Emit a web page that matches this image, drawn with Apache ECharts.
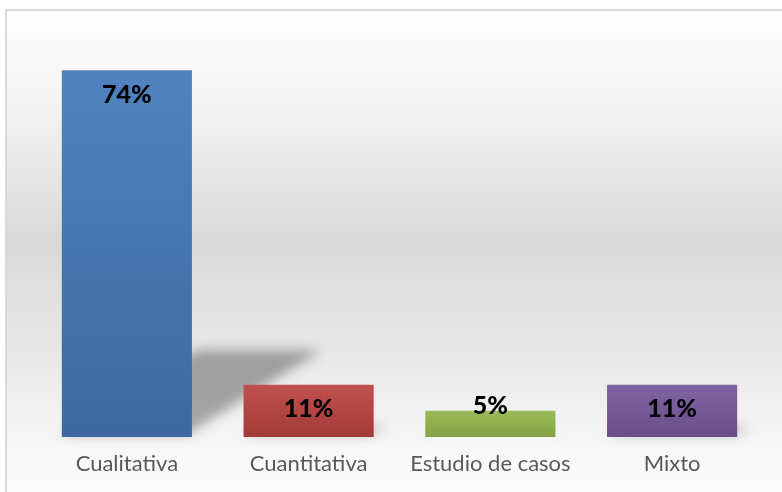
<!DOCTYPE html>
<html><head><meta charset="utf-8">
<script src="https://cdn.jsdelivr.net/npm/echarts@6/dist/echarts.min.js"></script>
<style>html,body{margin:0;padding:0;background:#fff}#c{width:782px;height:492px}</style>
</head><body><div id="c"></div>
<script>
const categories = ['Cualitativa', 'Cuantitativa', 'Estudio de casos', 'Mixto'];
const values = [73.7, 10.5, 5.3, 10.5];
const topColors = ['#5083bf', '#c0504d', '#9bbb59', '#8064a2'];
const bottomColors = ['#3c69a0', '#a23b38', '#84a244', '#694e8a'];

const chart = echarts.init(document.getElementById('c'), null, {renderer: 'canvas'});
const BAR_RATIO = 0.716;
const SHIFT = 1000;

chart.setOption({
  animation: false,
  backgroundColor: '#ffffff',
  graphic: [{
    type: 'rect', z: -10, silent: true,
    shape: {x: 6, y: 10, width: 800, height: 500},
    style: {
      fill: new echarts.graphic.LinearGradient(0, 0, 0, 1, [
        {offset: 0, color: '#ffffff'},
        {offset: 0.2, color: '#f3f3f3'},
        {offset: 0.46, color: '#d9d9d9'},
        {offset: 0.66, color: '#e6e6e6'},
        {offset: 0.86, color: '#f6f6f6'},
        {offset: 1, color: '#ffffff'}
      ]),
      stroke: '#d9d9d9', lineWidth: 2
    }
  }],
  grid: {left: 36, right: 19, top: 39, bottom: 55},
  xAxis: {
    type: 'category', data: categories,
    axisLine: {show: false}, axisTick: {show: false},
    axisLabel: {interval: 0, color: '#595959', fontFamily: 'Lato', fontSize: 22, margin: 16}
  },
  yAxis: {type: 'value', min: 0, max: 80, show: false, splitLine: {show: false}},
  series: [{
    type: 'custom', z: 1, silent: true, clip: false,
    data: values.map((v, i) => [i, v]),
    renderItem: function (params, api) {
      const top = api.coord([api.value(0), api.value(1)]);
      const base = api.coord([api.value(0), 0]);
      const band = api.size([1, 0])[0];
      const w = band * BAR_RATIO;
      const xl = base[0] - w / 2 - SHIFT, xr = base[0] + w / 2 - SHIFT;
      const h = base[1] - top[1];
      const sh = h * 0.245, sk = h * 0.37;
      return {
        type: 'polygon',
        shape: {points: [[xl, base[1] - 3], [xr - 4, base[1] - 3], [xr + sk - 6, base[1] - sh + 3], [xl + sk, base[1] - sh + 3]]},
        style: {fill: '#000', shadowBlur: 12, shadowColor: 'rgba(0,0,0,0.32)', shadowOffsetX: SHIFT, shadowOffsetY: 0}
      };
    }
  }, {
    type: 'bar', z: 2,
    barWidth: (BAR_RATIO * 100) + '%',
    data: values.map((v, i) => ({
      value: v,
      itemStyle: {color: new echarts.graphic.LinearGradient(0, 0, 0, 1, [
        {offset: 0, color: topColors[i]}, {offset: 1, color: bottomColors[i]}
      ])},
      label: v < 8 ? {offset: [0, -29]} : {}
    })),
    label: {
      show: true, position: 'insideTop', distance: 12,
      color: '#000', fontFamily: 'Lato', fontWeight: 900, fontSize: 25,
      formatter: p => Math.round(p.value) + '%'
    }
  }]
});
</script></body></html>
